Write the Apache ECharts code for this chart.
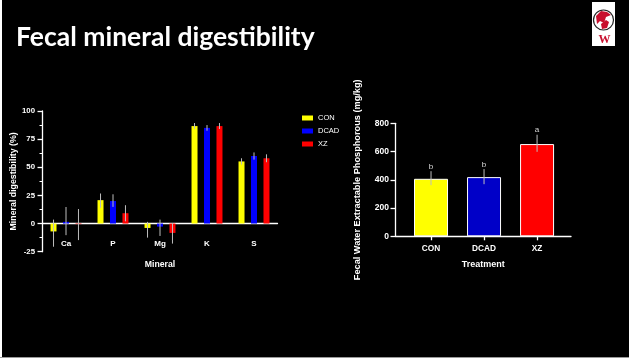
<!DOCTYPE html>
<html>
<head>
<meta charset="utf-8">
<script src="https://cdn.jsdelivr.net/npm/echarts@6/dist/echarts.min.js"></script>
<style>
  html, body { margin: 0; padding: 0; background: #000; }
  #chart { width: 629px; height: 358px; }
</style>
</head>
<body>
<div id="chart"></div>
<script>
// Left panel: mineral digestibility (%) per treatment
const minerals = ['Ca', 'P', 'Mg', 'K', 'S'];
const treatments = ['CON', 'DCAD', 'XZ'];

const conMean = [-7, 20.8, -3.9, 86.6, 55.2];
const conLow = [-20.6, 14, -12.5, 84, 52.4];
const conHigh = [3.5, 26.7, 1.5, 89.3, 58];

const dcadMean = [1.5, 20, -2.7, 85, 60];
const dcadLow = [-10.3, 14.8, -11, 82.5, 56.8];
const dcadHigh = [14.7, 26, 3.5, 87.5, 63.2];

const xzMean = [-0.5, 9.2, -8.3, 86.6, 58];
const xzLow = [-14.7, 2, -17.8, 84, 54.5];
const xzHigh = [12.9, 16.3, 0.5, 89.3, 61.5];

const digestTicks = [-25, 0, 25, 50, 75, 100];

// Right panel: fecal water extractable phosphorous (mg/kg)
const phosMean = [407, 419, 653];
const phosLow = [362, 369, 598];
const phosHigh = [461, 476, 719];
const phosLetters = ['b', 'b', 'a'];
const phosTicks = [0, 200, 400, 600, 800];

const leftColors = ['#ffff00', '#0000ff', '#ff0000'];
const rightColors = ['#ffff00', '#0000c8', '#ff0000'];
const BAR_W = 6;
const BAR_GAP = 1.08;
const ERR_COLOR = '#bdbdbd';
const FONT = 'Liberation Sans';

const chart = echarts.init(document.getElementById('chart'));

// whiskers for the grouped bars, shifted to sit on each series' bar
function groupErrors(gi, lows, highs) {
  return {
    name: treatments[gi] + ' err',
    type: 'custom',
    xAxisIndex: 0,
    yAxisIndex: 0,
    z: 5,
    data: minerals.map((m, i) => [i, lows[i], highs[i]]),
    renderItem: (params, api) => {
      const idx = api.value(0);
      const off = (gi - 1) * BAR_W * (1 + BAR_GAP);
      const x = api.coord([idx, 0])[0] + off;
      const y1 = api.coord([idx, api.value(1)])[1];
      const y2 = api.coord([idx, api.value(2)])[1];
      return {
        type: 'line',
        shape: { x1: x, y1: y1, x2: x, y2: y2 },
        style: { stroke: ERR_COLOR, lineWidth: 1 }
      };
    }
  };
}

const groupBars = [conMean, dcadMean, xzMean].map((vals, gi) => ({
  name: treatments[gi],
  type: 'bar',
  xAxisIndex: 0,
  yAxisIndex: 0,
  data: vals,
  barWidth: BAR_W,
  barGap: (BAR_GAP * 100) + '%',
  itemStyle: { color: leftColors[gi] }
}));

const option = {
  backgroundColor: '#000',
  animation: false,
  textStyle: { fontFamily: FONT },
  title: {
    text: 'Fecal mineral digestibility',
    left: 11,
    top: 19,
    textStyle: { color: '#fff', fontSize: 26.5, fontWeight: 'bold', fontFamily: 'Lato' }
  },
  legend: {
    data: treatments,
    orient: 'vertical',
    left: 297,
    top: 109,
    icon: 'rect',
    itemWidth: 11,
    itemHeight: 5,
    itemGap: 5,
    textStyle: { color: '#fff', fontSize: 7.5, fontFamily: FONT }
  },
  grid: [
    { left: 42.5, top: 111, width: 235, height: 140.7 },
    { left: 395.5, top: 123.3, width: 175.5, height: 113 }
  ],
  xAxis: [
    {
      gridIndex: 0,
      type: 'category',
      data: minerals,
      name: 'Mineral',
      nameLocation: 'middle',
      nameGap: 37,
      nameTextStyle: { color: '#fff', fontSize: 8.7, fontWeight: 'bold' },
      // lift the axis from the grid bottom (-25) up to the zero line
      offset: -28.4,
      axisLine: { onZero: false, lineStyle: { color: '#fff', width: 1.3 } },
      axisTick: { show: false },
      axisLabel: { color: '#fff', fontSize: 8, fontWeight: 'bold', margin: 16.5 },
      splitLine: { show: false }
    },
    {
      gridIndex: 1,
      type: 'value',
      min: -0.67,
      max: 2.64,
      name: 'Treatment',
      nameLocation: 'middle',
      nameGap: 24,
      nameTextStyle: { color: '#fff', fontSize: 9, fontWeight: 'bold' },
      axisLine: { lineStyle: { color: '#fff', width: 1.3 } },
      axisTick: { customValues: [0, 1, 2], length: 4, lineStyle: { color: '#fff', width: 1.3 } },
      axisLabel: {
        customValues: [0, 1, 2],
        color: '#fff', fontSize: 8.3, fontWeight: 'bold', margin: 8,
        formatter: v => treatments[Math.round(v)]
      },
      splitLine: { show: false }
    }
  ],
  yAxis: [
    {
      gridIndex: 0,
      type: 'value',
      min: digestTicks[0],
      max: digestTicks[digestTicks.length - 1],
      interval: 25,
      name: 'Mineral digestibility (%)',
      nameLocation: 'middle',
      nameGap: 22,
      nameTextStyle: { color: '#fff', fontSize: 8.8, fontWeight: 'bold' },
      axisLine: { show: true, onZero: false, lineStyle: { color: '#fff', width: 1.3 } },
      axisTick: { show: true, length: 5, lineStyle: { color: '#fff', width: 1.3 } },
      minorTick: { show: true, splitNumber: 2, length: 3, lineStyle: { color: '#fff', width: 1 } },
      axisLabel: { color: '#fff', fontSize: 7.8, fontWeight: 'bold', margin: 7.5 },
      splitLine: { show: false }
    },
    {
      gridIndex: 1,
      type: 'value',
      min: phosTicks[0],
      max: phosTicks[phosTicks.length - 1],
      interval: 200,
      name: 'Fecal Water Extractable Phosphorous (mg/kg)',
      nameLocation: 'middle',
      nameGap: 34,
      nameTextStyle: { color: '#fff', fontSize: 9.2, fontWeight: 'bold' },
      axisLine: { show: true, onZero: false, lineStyle: { color: '#fff', width: 1.3 } },
      axisTick: { show: true, length: 5, lineStyle: { color: '#fff', width: 1.3 } },
      axisLabel: { color: '#fff', fontSize: 8.5, fontWeight: 'bold', margin: 6.5 },
      splitLine: { show: false }
    }
  ],
  series: [
    ...groupBars,
    groupErrors(0, conLow, conHigh),
    groupErrors(1, dcadLow, dcadHigh),
    groupErrors(2, xzLow, xzHigh),
    {
      name: 'phos',
      type: 'bar',
      xAxisIndex: 1,
      yAxisIndex: 1,
      barWidth: 34,
      data: phosMean.map((v, i) => ({
        value: [i, v],
        itemStyle: { color: rightColors[i], borderColor: '#fff', borderWidth: 1 }
      }))
    },
    {
      name: 'phos err',
      type: 'custom',
      xAxisIndex: 1,
      yAxisIndex: 1,
      z: 5,
      data: phosMean.map((v, i) => [i, phosLow[i], phosHigh[i]]),
      renderItem: (params, api) => {
        const x = api.coord([api.value(0), 0])[0];
        const yLo = api.coord([api.value(0), api.value(1)])[1];
        const yHi = api.coord([api.value(0), api.value(2)])[1];
        return {
          type: 'group',
          children: [
            { type: 'line', shape: { x1: x, y1: yLo, x2: x, y2: yHi }, style: { stroke: ERR_COLOR, lineWidth: 1 } },
            {
              type: 'text', x: x, y: yHi - 0.5,
              style: {
                text: phosLetters[params.dataIndex], fill: '#d8d8d8',
                font: '8px "Liberation Sans"', align: 'center', verticalAlign: 'bottom'
              }
            }
          ]
        };
      }
    }
  ],
  graphic: [
    // slide frame edges
    { type: 'rect', left: 0, top: 0, shape: { width: 2, height: 358 }, style: { fill: '#fff' }, silent: true },
    { type: 'rect', left: 0, top: 357, shape: { width: 629, height: 1 }, style: { fill: '#9a9a9a' }, silent: true },
    // logo in the corner
    {
      type: 'group', left: 592, top: 2, silent: true,
      children: [
        { type: 'rect', shape: { x: 0, y: 0, width: 23, height: 44 }, style: { fill: '#fff' } },
        { type: 'circle', shape: { cx: 11.5, cy: 18, r: 10 }, style: { fill: '#fff', stroke: '#222', lineWidth: 1.2 } },
        { type: 'polygon', shape: { points: [[4, 14], [9, 9], [15, 10], [19, 13], [14, 15], [12, 21], [8, 19], [5, 22]] }, style: { fill: '#c8102e' } },
        { type: 'polygon', shape: { points: [[9, 22], [14, 18], [17, 20], [15, 26], [10, 27]] }, style: { fill: '#c8102e' } },
        { type: 'text', x: 12.5, y: 38, style: { text: 'W', fill: '#c8102e', font: 'bold 12px "Liberation Serif"', align: 'center', verticalAlign: 'middle' } }
      ]
    }
  ]
};

chart.setOption(option);
</script>
</body>
</html>
